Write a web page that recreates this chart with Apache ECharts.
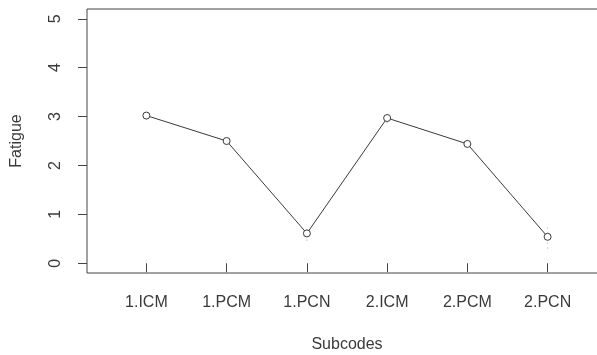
<!DOCTYPE html>
<html>
<head>
<meta charset="utf-8">
<script src="https://cdn.jsdelivr.net/npm/echarts@6/dist/echarts.min.js"></script>
<style>
	html, body { margin: 0; padding: 0; background: #fff; }
	#main { width: 597px; height: 355px; }
</style>
</head>
<body>
<div id="main"></div>
<script>
// 数据
var subcodes = ["1.ICM", "1.PCM", "1.PCN", "2.ICM", "2.PCM", "2.PCN"];
var fatigue = [3.02, 2.50, 0.61, 2.97, 2.44, 0.54];
var fatigueErr = [0.08, 0.07, 0.15, 0.10, 0.06, 0.24];
var yTicks = [0, 1, 2, 3, 4, 5];

/**
 * 页面加载
 */
window.onload = function() {
	drawLineChart();
}

/**
 * 绘制折线图
 */
function drawLineChart() {
	var myChart = echarts.init(document.getElementById('main'));
	var xTicks = subcodes.map(function(s, i) { return i + 1; });
	var lineData = fatigue.map(function(v, i) { return [i + 1, v]; });
	var errData = fatigue.map(function(v, i) { return [i + 1, v - fatigueErr[i], v + fatigueErr[i]]; });
	var textColor = '#3a3a3a';
	var fontFamily = 'Liberation Sans, Arial, sans-serif';

	var option = {
		backgroundColor: '#fff',
		animation: false,
		grid: {
			left: 87,
			top: 9,
			width: 520,
			height: 264,
			outerBoundsMode: 'none',
			containLabel: false,
			show: true,
			borderColor: '#444',
			borderWidth: 1
		},
		xAxis: {
			type: 'value',
			min: 0.26,
			max: 6.74,
			axisLine: { show: false },
			splitLine: { show: false },
			axisTick: {
				show: true,
				customValues: xTicks,
				length: 9,
				lineStyle: { color: '#444' }
			},
			axisLabel: {
				customValues: xTicks,
				margin: 22,
				color: textColor,
				fontSize: 16,
				fontFamily: fontFamily,
				formatter: function(v) {
					return subcodes[Math.round(v) - 1];
				}
			},
			name: 'Subcodes',
			nameLocation: 'middle',
			nameGap: 64,
			nameTextStyle: { color: textColor, fontSize: 16, fontFamily: fontFamily }
		},
		yAxis: {
			type: 'value',
			min: -0.2,
			max: 5.2,
			axisLine: { show: false },
			splitLine: { show: false },
			axisTick: {
				show: true,
				customValues: yTicks,
				length: 9,
				lineStyle: { color: '#444' }
			},
			axisLabel: {
				customValues: yTicks,
				rotate: 90,
				margin: 23,
				color: textColor,
				fontSize: 16,
				fontFamily: fontFamily
			},
			name: 'Fatigue',
			nameLocation: 'middle',
			nameGap: 62,
			nameRotate: 90,
			nameTextStyle: { color: textColor, fontSize: 16, fontFamily: fontFamily }
		},
		series: [{
			type: 'custom',
			renderItem: function(params, api) {
				var x = api.value(0);
				var lo = api.coord([x, api.value(1)]);
				var hi = api.coord([x, api.value(2)]);
				return {
					type: 'line',
					shape: { x1: lo[0], y1: lo[1], x2: hi[0], y2: hi[1] },
					style: { stroke: '#aaa', lineWidth: 1, lineDash: [1, 4] }
				};
			},
			data: errData,
			z: 1
		}, {
			type: 'line',
			data: lineData,
			symbol: 'circle',
			symbolSize: 7,
			lineStyle: { color: '#3a3a3a', width: 1 },
			itemStyle: { color: '#fff', borderColor: '#3a3a3a', borderWidth: 1 },
			z: 2
		}]
	};
	myChart.setOption(option);
}
</script>
</body>
</html>
